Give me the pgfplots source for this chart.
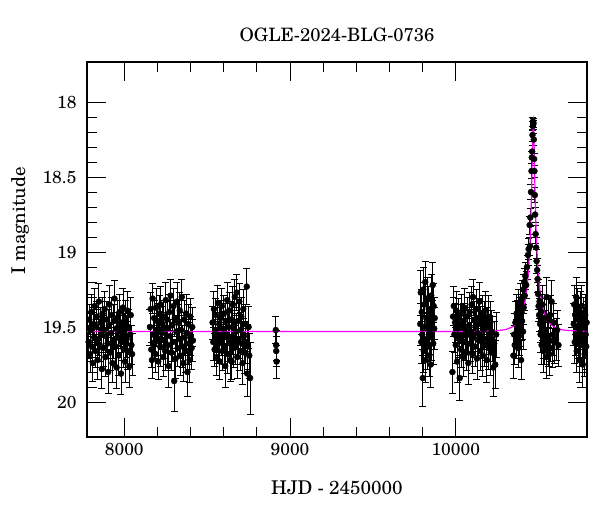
\documentclass[border=0pt]{standalone}
\usepackage{fontspec}
\setmainfont{TeX Gyre Schola}
\usepackage{pgfplots}
\usepackage{pgfplotstable}
\pgfplotsset{compat=1.18}
\definecolor{model}{RGB}{255,0,255}

\pgfplotstableread{
x y e
7785 19.60 0.11
7789 19.45 0.10
7793 19.68 0.12
7797 19.52 0.11
7801 19.40 0.12
7805 19.63 0.10
7810 19.74 0.12
7814 19.48 0.11
7818 19.57 0.10
7822 19.36 0.12
7826 19.66 0.11
7831 19.50 0.12
7835 19.43 0.10
7839 19.72 0.13
7843 19.58 0.11
7847 19.33 0.12
7852 19.62 0.11
7856 19.47 0.10
7860 19.55 0.12
7865 19.78 0.13
7869 19.41 0.11
7873 19.64 0.12
7877 19.52 0.10
7882 19.38 0.12
7886 19.70 0.13
7890 19.56 0.11
7894 19.45 0.12
7899 19.61 0.10
7903 19.80 0.14
7907 19.49 0.11
7911 19.35 0.13
7916 19.67 0.12
7920 19.54 0.11
7924 19.42 0.12
7929 19.74 0.13
7933 19.59 0.12
7937 19.46 0.11
7941 19.31 0.12
7946 19.63 0.13
7950 19.51 0.11
7954 19.77 0.14
7958 19.44 0.12
7963 19.57 0.11
7967 19.69 0.13
7971 19.40 0.12
7975 19.53 0.11
7980 19.81 0.14
7984 19.60 0.12
7988 19.47 0.11
7992 19.37 0.13
7997 19.65 0.12
8001 19.52 0.11
8005 19.73 0.14
8009 19.44 0.12
8014 19.58 0.12
8018 19.39 0.13
8022 19.66 0.12
8026 19.50 0.12
8031 19.76 0.14
8035 19.55 0.13
8039 19.42 0.12
8043 19.62 0.13
8047 19.68 0.14
8155 19.50 0.12
8159 19.38 0.11
8163 19.65 0.12
8167 19.72 0.12
8171 19.31 0.10
8175 19.55 0.11
8180 19.44 0.12
8184 19.60 0.11
8188 19.68 0.12
8192 19.37 0.13
8196 19.52 0.11
8200 19.46 0.12
8205 19.73 0.12
8209 19.58 0.11
8213 19.41 0.12
8217 19.63 0.13
8221 19.35 0.12
8226 19.54 0.11
8230 19.48 0.12
8234 19.70 0.13
8238 19.43 0.11
8242 19.59 0.12
8247 19.66 0.13
8251 19.32 0.12
8255 19.51 0.11
8259 19.45 0.12
8263 19.62 0.13
8268 19.76 0.14
8272 19.40 0.12
8276 19.56 0.11
8280 19.29 0.11
8284 19.67 0.12
8289 19.49 0.12
8293 19.60 0.13
8297 19.36 0.12
8301 19.86 0.20
8305 19.44 0.12
8310 19.71 0.13
8314 19.53 0.11
8318 19.33 0.13
8322 19.64 0.12
8326 19.47 0.12
8331 19.58 0.13
8335 19.39 0.12
8339 19.69 0.13
8343 19.52 0.12
8347 19.30 0.12
8352 19.63 0.14
8356 19.74 0.12
8360 19.45 0.13
8364 19.57 0.12
8368 19.66 0.14
8373 19.41 0.13
8377 19.54 0.12
8381 19.80 0.16
8385 19.48 0.13
8389 19.61 0.14
8394 19.72 0.15
8398 19.43 0.12
8402 19.56 0.13
8406 19.64 0.14
8410 19.50 0.13
8414 19.59 0.14
8533 19.47 0.11
8537 19.60 0.12
8541 19.38 0.12
8545 19.65 0.11
8549 19.52 0.12
8553 19.42 0.11
8557 19.70 0.12
8561 19.56 0.11
8565 19.34 0.12
8569 19.61 0.13
8573 19.48 0.11
8577 19.73 0.12
8581 19.44 0.12
8585 19.58 0.11
8589 19.36 0.12
8593 19.66 0.13
8597 19.51 0.11
8601 19.41 0.12
8605 19.63 0.12
8609 19.76 0.14
8613 19.46 0.12
8617 19.55 0.11
8621 19.32 0.12
8625 19.68 0.13
8629 19.50 0.11
8633 19.39 0.12
8637 19.60 0.13
8641 19.72 0.14
8645 19.45 0.12
8648 19.73 0.12
8651 19.57 0.11
8655 19.35 0.12
8659 19.64 0.13
8663 19.49 0.12
8667 19.30 0.12
8671 19.62 0.13
8675 19.53 0.12
8678 19.27 0.12
8682 19.70 0.14
8686 19.46 0.12
8690 19.58 0.13
8694 19.33 0.12
8698 19.66 0.13
8702 19.52 0.12
8706 19.43 0.13
8710 19.61 0.14
8714 19.74 0.14
8718 19.38 0.13
8722 19.56 0.12
8726 19.67 0.14
8730 19.48 0.13
8734 19.60 0.14
8739 19.23 0.12
8742 19.81 0.15
8746 19.63 0.15
8750 19.50 0.14
8754 19.69 0.15
8759 19.84 0.24
8914 19.52 0.09
8916 19.62 0.10
8917 19.66 0.10
8919 19.73 0.11
9786 19.48 0.14
9789 19.27 0.15
9792 19.60 0.14
9795 19.40 0.15
9798 19.55 0.14
9801 19.84 0.19
9804 19.25 0.15
9807 19.66 0.14
9810 19.35 0.15
9813 19.50 0.14
9816 19.20 0.14
9819 19.72 0.15
9822 19.44 0.14
9825 19.58 0.15
9828 19.31 0.14
9831 19.63 0.15
9834 19.47 0.14
9837 19.38 0.15
9840 19.69 0.14
9843 19.53 0.15
9846 19.42 0.14
9849 19.75 0.15
9852 19.29 0.14
9855 19.57 0.15
9858 19.46 0.14
9861 19.22 0.15
9864 19.61 0.14
9867 19.36 0.15
9870 19.51 0.14
9873 19.44 0.14
9980 19.80 0.14
9984 19.43 0.13
9988 19.36 0.13
9992 19.55 0.12
9996 19.47 0.13
10000 19.62 0.12
10004 19.39 0.13
10008 19.73 0.14
10012 19.51 0.12
10016 19.44 0.13
10020 19.58 0.12
10024 19.84 0.15
10028 19.48 0.13
10032 19.65 0.12
10036 19.41 0.13
10040 19.56 0.12
10044 19.70 0.13
10048 19.46 0.12
10052 19.37 0.13
10056 19.60 0.12
10060 19.52 0.13
10064 19.67 0.12
10068 19.43 0.13
10072 19.55 0.12
10076 19.74 0.14
10080 19.49 0.12
10084 19.40 0.13
10088 19.61 0.12
10092 19.53 0.13
10096 19.35 0.12
10100 19.68 0.13
10104 19.30 0.12
10108 19.57 0.13
10112 19.45 0.12
10116 19.63 0.13
10120 19.50 0.12
10124 19.38 0.13
10128 19.71 0.14
10132 19.54 0.12
10136 19.44 0.13
10140 19.59 0.12
10144 19.33 0.13
10148 19.66 0.13
10152 19.48 0.12
10156 19.56 0.13
10160 19.41 0.12
10164 19.69 0.14
10168 19.52 0.13
10172 19.46 0.13
10176 19.62 0.14
10180 19.39 0.13
10184 19.58 0.14
10188 19.72 0.15
10192 19.50 0.13
10196 19.43 0.14
10200 19.64 0.14
10204 19.55 0.13
10208 19.47 0.14
10212 19.67 0.15
10216 19.53 0.14
10220 19.58 0.15
10226 19.77 0.19
10232 19.61 0.15
10238 19.75 0.16
10244 19.55 0.15
10348 19.69 0.15
10352 19.55 0.14
10356 19.62 0.13
10360 19.47 0.14
10364 19.58 0.13
10367 19.41 0.13
10370 19.52 0.12
10373 19.45 0.13
10376 19.64 0.13
10379 19.37 0.12
10382 19.56 0.13
10385 19.42 0.12
10388 19.50 0.13
10391 19.33 0.12
10394 19.72 0.13
10397 19.40 0.12
10400 19.46 0.12
10403 19.30 0.11
10406 19.53 0.12
10408 19.25 0.10
10410 19.37 0.11
10413 19.20 0.09
10416 19.29 0.10
10420 19.16 0.09
10425 19.22 0.09
10430 19.10 0.08
10436 19.02 0.07
10440 18.98 0.07
10446 18.82 0.06
10448 18.96 0.06
10450 18.77 0.06
10454 18.60 0.05
10457 18.46 0.05
10459 18.37 0.04
10461 18.33 0.04
10463 18.22 0.04
10465 18.16 0.03
10466 18.13 0.03
10467 18.15 0.03
10469 18.14 0.03
10471 18.25 0.04
10473 18.38 0.04
10475 18.46 0.04
10477 18.62 0.05
10479 18.75 0.05
10482 18.88 0.06
10485 18.97 0.07
10488 19.06 0.08
10491 19.12 0.08
10494 19.18 0.09
10497 19.28 0.10
10500 19.36 0.10
10503 19.42 0.11
10506 19.33 0.11
10509 19.48 0.12
10512 19.55 0.12
10515 19.40 0.12
10518 19.62 0.13
10521 19.47 0.12
10524 19.35 0.13
10527 19.58 0.13
10530 19.66 0.14
10533 19.44 0.13
10537 19.61 0.14
10541 19.52 0.13
10545 19.70 0.14
10549 19.30 0.13
10553 19.56 0.14
10557 19.63 0.13
10561 19.45 0.14
10565 19.68 0.14
10569 19.42 0.13
10573 19.59 0.14
10578 19.33 0.14
10582 19.64 0.13
10587 19.55 0.14
10592 19.47 0.13
10598 19.60 0.14
10605 19.58 0.14
10612 19.52 0.13
10620 19.62 0.14
10712 19.48 0.14
10715 19.35 0.13
10718 19.60 0.14
10721 19.42 0.13
10724 19.55 0.14
10727 19.30 0.13
10730 19.66 0.14
10733 19.50 0.13
10736 19.38 0.14
10739 19.58 0.13
10742 19.45 0.14
10745 19.72 0.15
10748 19.52 0.13
10751 19.40 0.14
10754 19.62 0.14
10757 19.48 0.13
10760 19.36 0.14
10763 19.57 0.14
10766 19.75 0.15
10769 19.44 0.14
10772 19.60 0.14
10775 19.50 0.13
10778 19.68 0.15
10781 19.42 0.14
10784 19.55 0.14
10787 19.63 0.15
10790 19.47 0.14
}\obsdata

\pgfplotstableread{
x y
7775 19.530
10000 19.530
10188 19.527
10268 19.522
10308 19.514
10348 19.495
10368 19.475
10388 19.442
10404 19.396
10416 19.341
10428 19.254
10436 19.166
10444 19.033
10452 18.823
10456 18.668
10460 18.469
10464 18.243
10468 18.120
10472 18.243
10476 18.469
10480 18.668
10484 18.823
10492 19.033
10500 19.166
10508 19.254
10520 19.341
10532 19.396
10548 19.442
10568 19.475
10588 19.495
10628 19.514
10668 19.522
10748 19.527
10800 19.530
}\modeldata

\begin{document}
\begin{tikzpicture}
\useasboundingbox (0,0) rectangle (600bp,512bp);
\begin{axis}[
  at={(87bp,75bp)}, anchor=south west,
  width=500bp, height=375bp, scale only axis,
  xmin=7775, xmax=10792, ymin=17.733, ymax=20.233,
  y dir=reverse,
  xtick={8000,9000,10000}, minor x tick num=4,
  ytick={18,18.5,19,19.5,20}, minor y tick num=4,
  xtick pos=both, ytick pos=both,
  xticklabel pos=lower, yticklabel pos=left,
  tick align=inside,
  major tick length=19bp, minor tick length=10bp,
  every tick/.style={black, line width=1bp},
  axis line style={black, line width=1.2bp},
  scaled x ticks=false, scaled y ticks=false,
  /pgf/number format/set thousands separator={},
  /pgf/number format/assume math mode=true,
  ticklabel style={font=\fontsize{17.5}{20}\selectfont},
  xticklabel style={yshift=-3bp},
  yticklabel style={xshift=-7bp},
  clip=true,
]
\addplot[only marks, mark=*, mark size=3bp, black,
  mark options={fill=black},
  error bars/.cd, y dir=both, y explicit,
  error bar style={black, line width=0.9bp},
  error mark options={rotate=90, mark size=3.5bp, black, line width=0.9bp}]
  table[x=x, y=y, y error=e] {\obsdata};
\addplot[model, line width=1.2bp, smooth, tension=0.4] table[x=x, y=y] {\modeldata};
\end{axis}
\node[font=\fontsize{18.5}{22}\selectfont] at (337bp,477bp) {OGLE-2024-BLG-0736};
\node[font=\fontsize{19}{22}\selectfont] at (337bp,24bp) {HJD - 2450000};
\node[font=\fontsize{19}{22}\selectfont, rotate=90] at (20bp,291bp) {I magnitude};
\end{tikzpicture}
\end{document}
